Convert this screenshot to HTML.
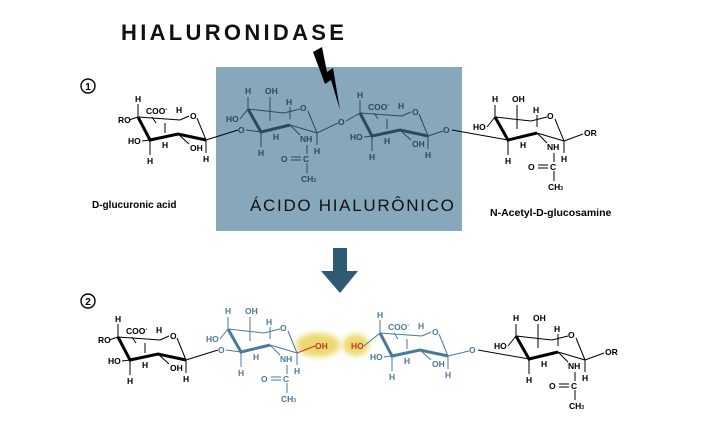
<!DOCTYPE html>
<html><head><meta charset="utf-8"><style>
html,body{margin:0;padding:0;background:#fff;}
svg{display:block;font-family:"Liberation Sans",sans-serif;}
.a{font-size:8.5px;font-weight:bold;}
</style></head><body>
<svg width="705" height="428" viewBox="0 0 705 428" xmlns="http://www.w3.org/2000/svg">
<defs>
<filter id="bl" x="-50%" y="-50%" width="200%" height="200%"><feGaussianBlur stdDeviation="3"/></filter>
</defs>
<text x="121" y="40" font-size="22" font-weight="bold" letter-spacing="3.3" fill="#111">HIALURONIDASE</text>
<rect x="216" y="67" width="246" height="164" fill="#87a7ba"/>
<text x="250" y="211" font-size="17" letter-spacing="1.7" fill="#111">ÁCIDO HIALURÔNICO</text>
<polygon points="313,52 322,47 327,72 333,68 340,110 331,80 325,84" fill="#000"/>
<circle cx="88" cy="86" r="7" fill="none" stroke="#000" stroke-width="1.4"/><text x="88" y="90" font-size="10" font-weight="bold" text-anchor="middle">1</text>
<circle cx="88" cy="301" r="7" fill="none" stroke="#000" stroke-width="1.4"/><text x="88" y="305" font-size="10" font-weight="bold" text-anchor="middle">2</text>
<text x="92" y="208" font-size="10" font-weight="bold">D-glucuronic acid</text>
<text x="490" y="216" font-size="10.5" font-weight="bold">N-Acetyl-D-glucosamine</text>
<polygon points="333,248 347,248 347,271 358,271 340,293 321,271 333,271" fill="#2f5b72"/>
<ellipse cx="318" cy="345" rx="22" ry="12" fill="#e8cf4a" opacity="0.8" filter="url(#bl)"/>
<ellipse cx="356" cy="345" rx="13" ry="11" fill="#e8cf4a" opacity="0.8" filter="url(#bl)"/>

<!-- ===== ROW 1 ===== -->
<g transform="translate(138,117)" fill="#000" stroke="#000" class="a">
<g fill="none" stroke-width="1"><path d="M0,0 L42,3 M42,3 L51,-1 M59,1 L68,23 M0,-13 L0,0 M-9,3 L0,0 M4,24 L12,23 M12,23 L12,38 M68,23 L68,36 M40,17 L51,27 M27,6 L27,16 M14,0 L18,6"/></g>
<path d="M0,0 L12,23 L40,17 L68,23" fill="none" stroke-width="3"/>
<g stroke="none"><text x="-3" y="-15">H</text><text x="-20" y="6">RO</text><text x="8" y="-3">COO<tspan font-size="6" dy="-3">-</tspan></text><text x="38" y="-4">H</text><text x="52" y="2">O</text><text x="-10" y="27">HO</text><text x="9" y="47">H</text><text x="24" y="31">H</text><text x="52" y="34">OH</text><text x="65" y="45">H</text></g>
</g>
<path d="M206,140 L238,130" stroke="#000" fill="none"/>
<g fill="#2c4a5c" stroke="#2c4a5c" class="a">
<text x="238" y="133" stroke="none">O</text>
<path d="M246,130 L261,132" fill="none"/>
</g>
<g transform="translate(248,109)" fill="#2c4a5c" stroke="#2c4a5c" class="a">
<g fill="none" stroke-width="1"><path d="M0,0 L36,4 L52,0 M60,2 L69,24 M42,16 L69,24 M0,-12 L0,0 M-8,10 L0,0 M13,23 L13,38 M42,16 L52,26 M69,24 L69,36 M59,36 L59,45 M43,48 L53,48 M43,51 L53,51 M59,54 L59,64 M22,-12 L22,3 M42,-2 L42,10 M22,3 L22,12"/></g>
<path d="M0,0 L13,23 L42,16" fill="none" stroke-width="3"/>
<g stroke="none"><text x="-3" y="-15">H</text><text x="17" y="-15">OH</text><text x="-22" y="13">HO</text><text x="38" y="-4">H</text><text x="52" y="2">O</text><text x="10" y="47">H</text><text x="25" y="31">H</text><text x="52" y="33">NH</text><text x="66" y="45">H</text><text x="33" y="53">O</text><text x="55" y="53">C</text><text x="53" y="73">CH<tspan font-size="5">3</tspan></text></g>
</g>
<g fill="#2c4a5c" stroke="#2c4a5c" class="a">
<path d="M317,133 L338,123 M346,121 L360,113" fill="none"/>
<text x="338" y="125" stroke="none">O</text>
</g>
<g transform="translate(360,113)" fill="#2c4a5c" stroke="#2c4a5c" class="a">
<g fill="none" stroke-width="1"><path d="M0,0 L42,3 M42,3 L51,-1 M59,1 L68,23 M0,-13 L0,0 M4,24 L12,23 M12,23 L12,38 M68,23 L68,36 M40,17 L51,27 M27,6 L27,16 M14,0 L18,6"/></g>
<path d="M0,0 L12,23 L40,17 L68,23" fill="none" stroke-width="3"/>
<g stroke="none"><text x="-3" y="-15">H</text><text x="8" y="-3">COO<tspan font-size="6" dy="-3">-</tspan></text><text x="38" y="-4">H</text><text x="52" y="2">O</text><text x="-10" y="27">HO</text><text x="9" y="47">H</text><text x="24" y="31">H</text><text x="52" y="34">OH</text><text x="65" y="45">H</text></g>
</g>
<path d="M428,136 L443,131" stroke="#2c4a5c" fill="none"/>
<text x="443" y="133" class="a" fill="#2c4a5c">O</text>
<path d="M452,130 L508,140" stroke="#000" fill="none"/>
<g transform="translate(495,117)" fill="#000" stroke="#000" class="a">
<g fill="none" stroke-width="1"><path d="M0,0 L36,4 L52,0 M60,2 L69,24 M42,16 L69,24 M0,-12 L0,0 M-8,10 L0,0 M13,23 L13,38 M42,16 L52,26 M69,24 L69,36 M59,36 L59,45 M43,48 L53,48 M43,51 L53,51 M59,54 L59,64 M22,-12 L22,3 M42,-2 L42,10 M22,3 L22,12 M69,24 L88,17"/></g>
<path d="M0,0 L13,23 L42,16" fill="none" stroke-width="3"/>
<g stroke="none"><text x="-3" y="-15">H</text><text x="17" y="-15">OH</text><text x="-22" y="13">HO</text><text x="38" y="-4">H</text><text x="52" y="2">O</text><text x="10" y="47">H</text><text x="25" y="31">H</text><text x="52" y="33">NH</text><text x="66" y="45">H</text><text x="33" y="53">O</text><text x="55" y="53">C</text><text x="53" y="73">CH<tspan font-size="5">3</tspan></text><text x="89" y="19">OR</text></g>
</g>

<!-- ===== ROW 2 ===== -->
<g transform="translate(118,337)" fill="#000" stroke="#000" class="a">
<g fill="none" stroke-width="1"><path d="M0,0 L42,3 M42,3 L51,-1 M59,1 L68,23 M0,-13 L0,0 M-9,3 L0,0 M4,24 L12,23 M12,23 L12,38 M68,23 L68,36 M40,17 L51,27 M27,6 L27,16 M14,0 L18,6"/></g>
<path d="M0,0 L12,23 L40,17 L68,23" fill="none" stroke-width="3"/>
<g stroke="none"><text x="-3" y="-15">H</text><text x="-20" y="6">RO</text><text x="8" y="-3">COO<tspan font-size="6" dy="-3">-</tspan></text><text x="38" y="-4">H</text><text x="52" y="2">O</text><text x="-10" y="27">HO</text><text x="9" y="47">H</text><text x="24" y="31">H</text><text x="52" y="34">OH</text><text x="65" y="45">H</text></g>
</g>
<path d="M186,360 L218,350" stroke="#000" fill="none"/>
<text x="218" y="353" class="a" fill="#4a7a99">O</text>
<path d="M226,350 L241,352" stroke="#4a7a99" fill="none"/>
<g transform="translate(228,329)" fill="#4a7a99" stroke="#4a7a99" class="a">
<g fill="none" stroke-width="1"><path d="M0,0 L36,4 L52,0 M60,2 L69,24 M42,16 L69,24 M0,-12 L0,0 M-8,10 L0,0 M13,23 L13,38 M42,16 L52,26 M69,24 L69,36 M59,36 L59,45 M43,48 L53,48 M43,51 L53,51 M59,54 L59,64 M22,-12 L22,3 M42,-2 L42,10 M22,3 L22,12"/></g>
<path d="M0,0 L13,23 L42,16" fill="none" stroke-width="3"/>
<g stroke="none"><text x="-3" y="-15">H</text><text x="17" y="-15">OH</text><text x="-22" y="13">HO</text><text x="38" y="-4">H</text><text x="52" y="2">O</text><text x="10" y="47">H</text><text x="25" y="31">H</text><text x="52" y="33">NH</text><text x="66" y="45">H</text><text x="33" y="53">O</text><text x="55" y="53">C</text><text x="53" y="73">CH<tspan font-size="5">3</tspan></text></g>
</g>
<path d="M297,353 L315,346" stroke="#c0392b" fill="none"/>
<text x="315" y="349" class="a" fill="#c0392b">OH</text>
<text x="351" y="349" class="a" fill="#c0392b">HO</text>
<path d="M364,346 L380,333" stroke="#4a7a99" fill="none"/>
<g transform="translate(380,333)" fill="#4a7a99" stroke="#4a7a99" class="a">
<g fill="none" stroke-width="1"><path d="M0,0 L42,3 M42,3 L51,-1 M59,1 L68,23 M0,-13 L0,0 M4,24 L12,23 M12,23 L12,38 M68,23 L68,36 M40,17 L51,27 M27,6 L27,16 M14,0 L18,6"/></g>
<path d="M0,0 L12,23 L40,17 L68,23" fill="none" stroke-width="3"/>
<g stroke="none"><text x="-3" y="-15">H</text><text x="8" y="-3">COO<tspan font-size="6" dy="-3">-</tspan></text><text x="38" y="-4">H</text><text x="52" y="2">O</text><text x="-10" y="27">HO</text><text x="9" y="47">H</text><text x="24" y="31">H</text><text x="52" y="34">OH</text><text x="65" y="45">H</text></g>
</g>
<path d="M448,356 L469,351" stroke="#4a7a99" fill="none"/>
<text x="469" y="353" class="a" fill="#4a7a99">O</text>
<path d="M478,350 L529,359" stroke="#000" fill="none"/>
<g transform="translate(516,336)" fill="#000" stroke="#000" class="a">
<g fill="none" stroke-width="1"><path d="M0,0 L36,4 L52,0 M60,2 L69,24 M42,16 L69,24 M0,-12 L0,0 M-8,10 L0,0 M13,23 L13,38 M42,16 L52,26 M69,24 L69,36 M59,36 L59,45 M43,48 L53,48 M43,51 L53,51 M59,54 L59,64 M22,-12 L22,3 M42,-2 L42,10 M22,3 L22,12 M69,24 L88,17"/></g>
<path d="M0,0 L13,23 L42,16" fill="none" stroke-width="3"/>
<g stroke="none"><text x="-3" y="-15">H</text><text x="17" y="-15">OH</text><text x="-22" y="13">HO</text><text x="38" y="-4">H</text><text x="52" y="2">O</text><text x="10" y="47">H</text><text x="25" y="31">H</text><text x="52" y="33">NH</text><text x="66" y="45">H</text><text x="33" y="53">O</text><text x="55" y="53">C</text><text x="53" y="73">CH<tspan font-size="5">3</tspan></text><text x="89" y="19">OR</text></g>
</g>
</svg>
</body></html>
